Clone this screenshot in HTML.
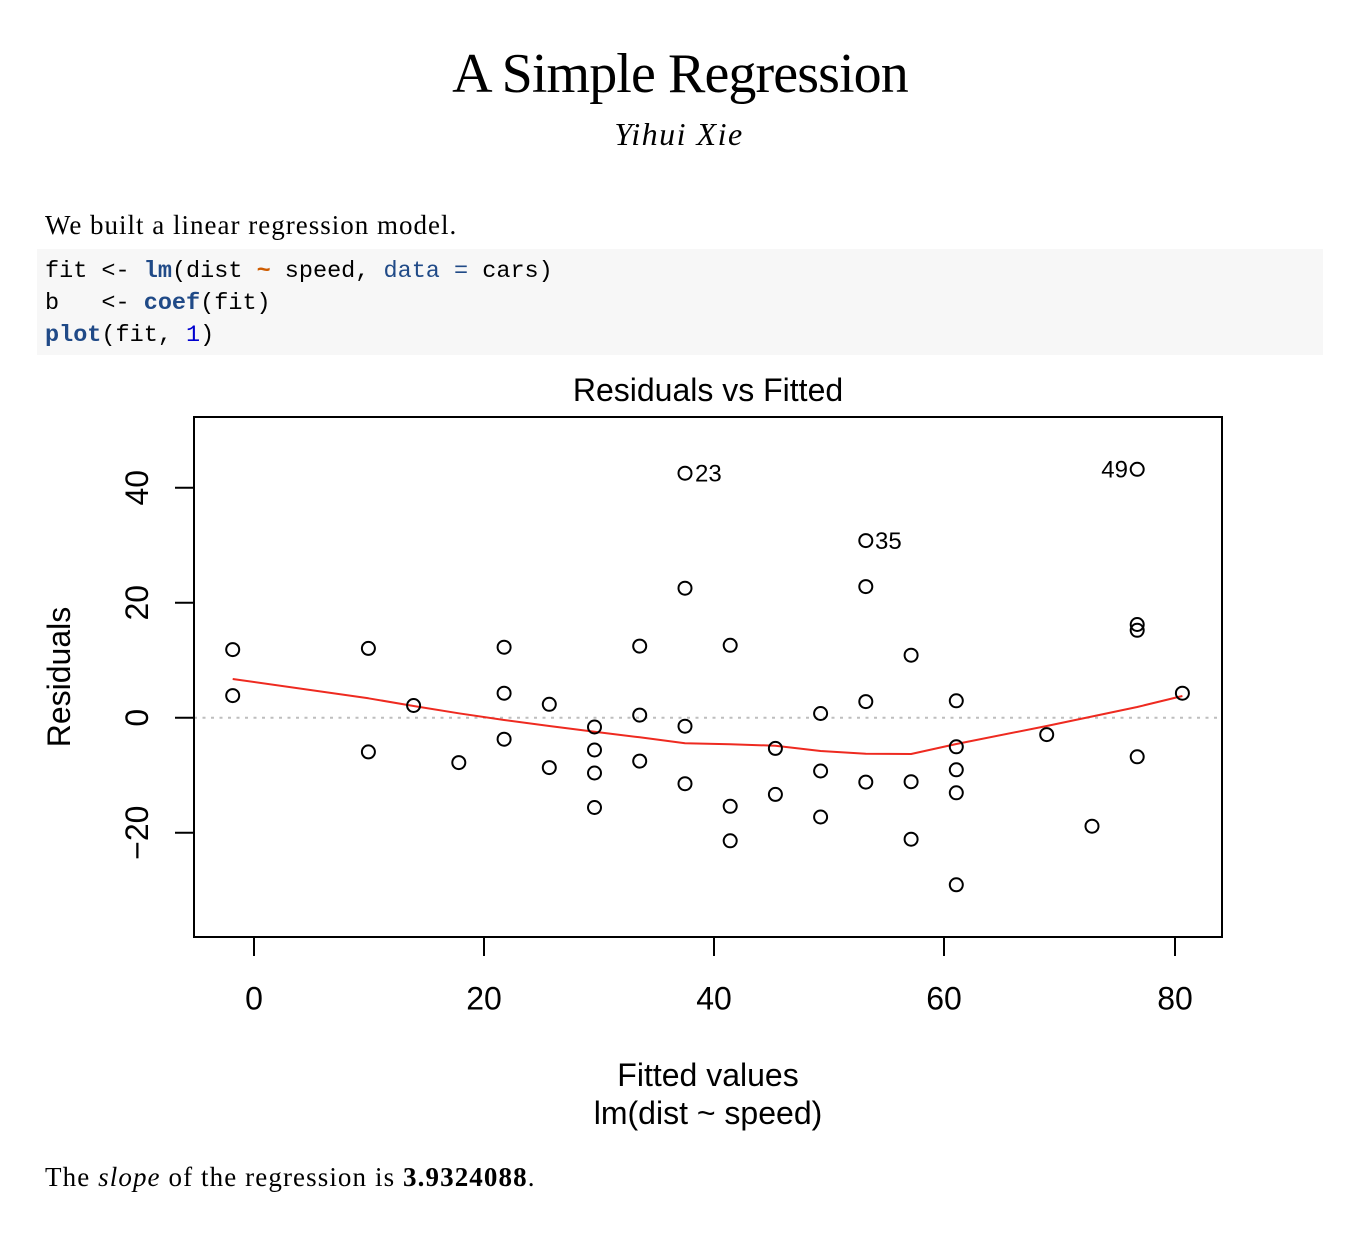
<!DOCTYPE html>
<html>
<head>
<meta charset="utf-8">
<style>
  html, body { margin:0; padding:0; background:#fff; }
  svg { display:block; }
  .serif { font-family: "Liberation Serif", serif; fill:#000; }
  .sans { font-family: "Liberation Sans", sans-serif; fill:#000; }
  .mono { font-family: "Liberation Mono", monospace; font-size:23.5px; fill:#000; white-space:pre; }
  .fn { fill:#204a87; font-weight:bold; }
  .kw { fill:#204a87; }
  .op { fill:#ce5c00; font-weight:bold; }
  .num { fill:#0000cf; }
</style>
</head>
<body>
<svg width="1350" height="1252" viewBox="0 0 1350 1252" xmlns="http://www.w3.org/2000/svg">
  <rect x="0" y="0" width="1350" height="1252" fill="#fff"/>

  <text class="serif" x="680" y="92" font-size="56" letter-spacing="-0.9" text-anchor="middle">A Simple Regression</text>
  <text class="serif" x="679" y="145" font-size="32" font-style="italic" letter-spacing="1.5" text-anchor="middle">Yihui Xie</text>

  <text class="serif" x="45" y="234" font-size="27" letter-spacing="1.0">We built a linear regression model.</text>

  <rect x="37" y="249" width="1286" height="106" fill="#f7f7f7"/>
  <text class="mono" x="45" y="277" xml:space="preserve">fit &lt;- <tspan class="fn">lm</tspan>(dist <tspan class="op">~</tspan> speed, <tspan class="kw">data</tspan> <tspan class="kw">=</tspan> cars)</text>
  <text class="mono" x="45" y="309" xml:space="preserve">b   &lt;- <tspan class="fn">coef</tspan>(fit)</text>
  <text class="mono" x="45" y="341" xml:space="preserve"><tspan class="fn">plot</tspan>(fit, <tspan class="num">1</tspan>)</text>

  <text class="sans" x="708" y="401" font-size="32" text-anchor="middle">Residuals vs Fitted</text>

  <line x1="194" y1="717.7" x2="1222" y2="717.7" stroke="#bebebe" stroke-width="2" stroke-dasharray="3 5.5"/>

  <polyline fill="none" stroke="#ee2a20" stroke-width="2" stroke-linejoin="round"
    points="232.7,679 368.4,698.3 413.6,706 458.8,713.3 504.1,720 549.3,726 594.5,731.7 639.7,737.3 685,743.3 730.2,744.3 775.4,745.7 820.6,751 865.8,753.7 911.1,754 956.3,744 1046.7,726 1092,716.5 1137.2,707 1182.4,696"/>

  <g fill="none" stroke="#000" stroke-width="2">
    <circle cx="232.7" cy="695.6" r="6.5"/>
    <circle cx="232.7" cy="649.6" r="6.5"/>
    <circle cx="368.4" cy="751.9" r="6.5"/>
    <circle cx="368.4" cy="648.4" r="6.5"/>
    <circle cx="413.6" cy="705.5" r="6.5"/>
    <circle cx="458.8" cy="762.6" r="6.5"/>
    <circle cx="504.1" cy="739.2" r="6.5"/>
    <circle cx="504.1" cy="693.2" r="6.5"/>
    <circle cx="504.1" cy="647.2" r="6.5"/>
    <circle cx="549.3" cy="767.6" r="6.5"/>
    <circle cx="549.3" cy="704.3" r="6.5"/>
    <circle cx="594.5" cy="807.5" r="6.5"/>
    <circle cx="594.5" cy="773.0" r="6.5"/>
    <circle cx="594.5" cy="750.0" r="6.5"/>
    <circle cx="594.5" cy="727.0" r="6.5"/>
    <circle cx="639.7" cy="761.1" r="6.5"/>
    <circle cx="639.7" cy="715.1" r="6.5"/>
    <circle cx="639.7" cy="646.1" r="6.5"/>
    <circle cx="685.0" cy="783.7" r="6.5"/>
    <circle cx="685.0" cy="726.2" r="6.5"/>
    <circle cx="685.0" cy="588.2" r="6.5"/>
    <circle cx="685.0" cy="473.2" r="6.5"/>
    <circle cx="730.2" cy="840.8" r="6.5"/>
    <circle cx="730.2" cy="806.3" r="6.5"/>
    <circle cx="730.2" cy="645.3" r="6.5"/>
    <circle cx="775.4" cy="794.4" r="6.5"/>
    <circle cx="775.4" cy="748.4" r="6.5"/>
    <circle cx="820.6" cy="817.0" r="6.5"/>
    <circle cx="820.6" cy="771.0" r="6.5"/>
    <circle cx="820.6" cy="713.5" r="6.5"/>
    <circle cx="865.8" cy="782.1" r="6.5"/>
    <circle cx="865.8" cy="701.6" r="6.5"/>
    <circle cx="865.8" cy="586.6" r="6.5"/>
    <circle cx="865.8" cy="540.6" r="6.5"/>
    <circle cx="911.1" cy="839.2" r="6.5"/>
    <circle cx="911.1" cy="781.7" r="6.5"/>
    <circle cx="911.1" cy="655.2" r="6.5"/>
    <circle cx="956.3" cy="884.8" r="6.5"/>
    <circle cx="956.3" cy="792.8" r="6.5"/>
    <circle cx="956.3" cy="769.8" r="6.5"/>
    <circle cx="956.3" cy="746.8" r="6.5"/>
    <circle cx="956.3" cy="700.8" r="6.5"/>
    <circle cx="1046.7" cy="734.6" r="6.5"/>
    <circle cx="1092.0" cy="826.2" r="6.5"/>
    <circle cx="1137.2" cy="756.8" r="6.5"/>
    <circle cx="1137.2" cy="630.3" r="6.5"/>
    <circle cx="1137.2" cy="624.5" r="6.5"/>
    <circle cx="1137.2" cy="469.3" r="6.5"/>
    <circle cx="1182.4" cy="693.2" r="6.5"/>
  </g>

  <text class="sans" x="695" y="481.5" font-size="24">23</text>
  <text class="sans" x="875" y="549" font-size="24">35</text>
  <text class="sans" x="1128" y="477.5" font-size="24" text-anchor="end">49</text>

  <rect x="194" y="417" width="1028" height="520" fill="none" stroke="#000" stroke-width="2"/>

  <g stroke="#000" stroke-width="2">
    <line x1="254" y1="937" x2="254" y2="956"/>
    <line x1="484" y1="937" x2="484" y2="956"/>
    <line x1="714" y1="937" x2="714" y2="956"/>
    <line x1="944" y1="937" x2="944" y2="956"/>
    <line x1="1175" y1="937" x2="1175" y2="956"/>
    <line x1="175" y1="487.7" x2="194" y2="487.7"/>
    <line x1="175" y1="602.7" x2="194" y2="602.7"/>
    <line x1="175" y1="717.7" x2="194" y2="717.7"/>
    <line x1="175" y1="832.7" x2="194" y2="832.7"/>
  </g>

  <g class="sans" font-size="32" text-anchor="middle">
    <text x="254" y="1009.5">0</text>
    <text x="484" y="1009.5">20</text>
    <text x="714" y="1009.5">40</text>
    <text x="944" y="1009.5">60</text>
    <text x="1175" y="1009.5">80</text>
  </g>

  <g class="sans" font-size="32" text-anchor="middle">
    <text transform="translate(148,487.7) rotate(-90)">40</text>
    <text transform="translate(148,602.7) rotate(-90)">20</text>
    <text transform="translate(148,717.7) rotate(-90)">0</text>
    <text transform="translate(148,832.7) rotate(-90)">−20</text>
  </g>

  <text class="sans" font-size="32" text-anchor="middle" transform="translate(70,677) rotate(-90)">Residuals</text>
  <text class="sans" x="708" y="1086" font-size="32" text-anchor="middle">Fitted values</text>
  <text class="sans" x="708" y="1124" font-size="32" text-anchor="middle">lm(dist ~ speed)</text>

  <text class="serif" x="45" y="1186" font-size="27" letter-spacing="1.1">The <tspan font-style="italic">slope</tspan> of the regression is <tspan font-weight="bold">3.9324088</tspan>.</text>
</svg>
</body>
</html>
